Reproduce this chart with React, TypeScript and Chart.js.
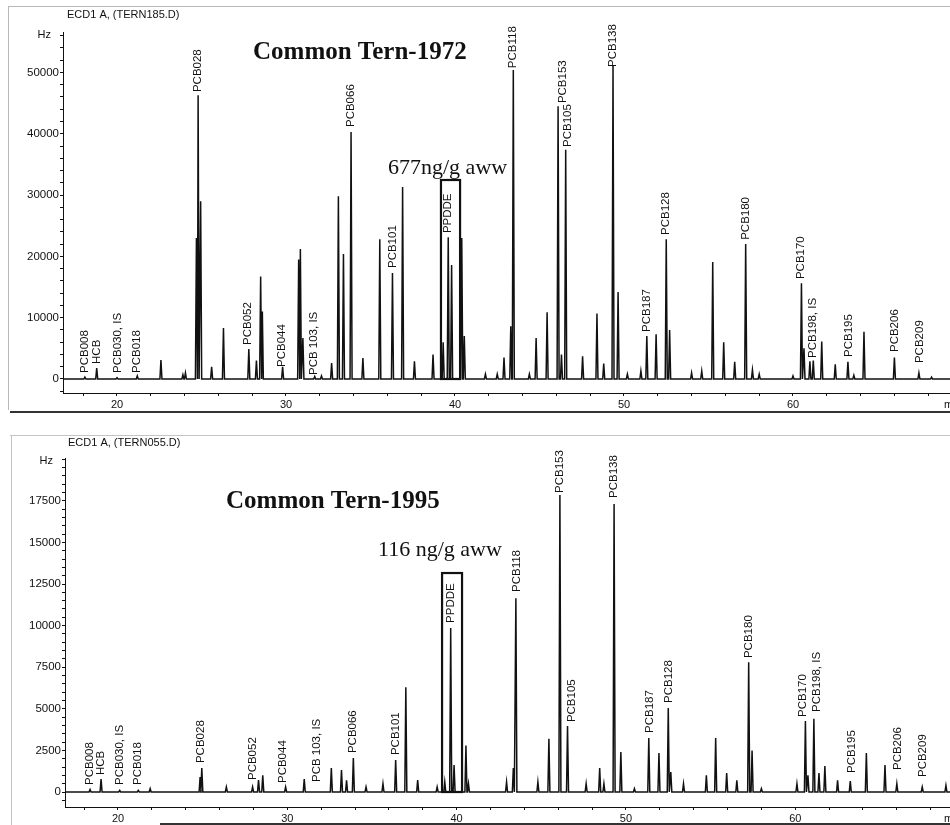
import React, { useEffect, useRef } from 'react';
import { Chart, registerables } from 'chart.js';

Chart.register(...registerables);

// ---------------- DATA: Common Tern 1972 (TERN185.D) ----------------
const peakTimes1972 = [
  18.1, 18.8, 20.0, 21.2, 22.6, 23.9, 24.05, 24.7, 24.8, 24.95, 25.6, 26.3, 27.8, 28.25, 28.5, 28.6,
  29.8, 30.75, 30.85, 31.0, 31.7, 32.1, 32.7, 33.1, 33.4, 33.85, 34.55, 35.55, 36.3, 36.9, 37.6, 38.7,
  39.3, 39.6, 39.8, 40.4, 40.55, 41.8, 42.5, 42.9, 43.3, 43.45, 44.4, 44.8, 45.45, 46.1, 46.3, 46.55,
  47.55, 48.4, 48.8, 49.35, 49.65, 50.2, 51.0, 51.35, 51.9, 52.5, 52.7, 54.0, 54.6, 55.25, 55.9, 56.55,
  57.2, 57.6, 58.0, 60.0, 60.5, 60.65, 61.0, 61.2, 61.7, 62.5, 63.25, 63.6, 64.2, 66.0, 67.45, 68.2,
];
const peakHeights1972 = [
  300, 1800, 200, 500, 3100, 700, 1000, 23000, 46300, 29000, 2000, 8300, 4900, 3000, 16700, 11000,
  2000, 19500, 21200, 6700, 400, 500, 2600, 29800, 20400, 40300, 3400, 22800, 17300, 31300, 2900, 4000,
  6000, 23100, 18600, 23000, 7000, 800, 800, 3500, 8600, 50400, 800, 6700, 10900, 44500, 4000, 37400,
  3700, 10700, 2500, 51200, 14200, 800, 1300, 7000, 7300, 22800, 8000, 1000, 1300, 19100, 6000, 2800,
  22000, 1500, 800, 500, 15600, 5000, 2900, 3000, 6100, 2400, 2800, 600, 7700, 3500, 1000, 300,
];
const labelNames1972 = [
  'PCB008', 'HCB', 'PCB030, IS', 'PCB018', 'PCB028', 'PCB052', 'PCB044', 'PCB 103, IS', 'PCB066',
  'PCB101', 'PPDDE', 'PCB118', 'PCB153', 'PCB105', 'PCB138', 'PCB187', 'PCB128', 'PCB180', 'PCB170',
  'PCB198, IS', 'PCB195', 'PCB206', 'PCB209',
];
const labelTimes1972 = [
  18.11, 18.82, 20.06, 21.18, 24.79, 27.75, 29.76, 31.66, 33.85, 36.33, 39.59, 43.43, 46.39, 46.69,
  49.35, 51.36, 52.49, 57.22, 60.47, 61.18, 63.31, 66.04, 67.51,
];
const labelLevels1972 = [
  980, 2450, 980, 980, 46800, 5550, 1960, 650, 41100, 18100, 23800, 50700, 45000, 37850, 50900, 7670,
  23500, 22700, 16300, 3430, 3590, 4400, 2600,
];
const yTicks1972 = [0, 10000, 20000, 30000, 40000, 50000];
const yMinorStep1972 = 2000;
const yRange1972 = [-2284, 56600];
const xRange1972 = [16.805, 69.29];
const ppddeBox1972 = [39.17, 40.3, 32460];
const sampleName1972 = 'ECD1 A, (TERN185.D)';
const title1972 = 'Common Tern-1972';
const concentration1972 = '677ng/g aww';

// ---------------- DATA: Common Tern 1995 (TERN055.D) ----------------
const peakTimes1995 = [
  18.35, 19.0, 20.1, 21.2, 21.9, 24.85, 24.95, 26.4, 27.95, 28.3, 28.55, 29.9, 31.0, 32.6, 33.2, 33.5,
  33.9, 34.65, 35.65, 36.4, 37.0, 37.7, 38.85, 39.3, 39.65, 39.85, 40.55, 40.7, 42.95, 43.35, 43.5,
  44.8, 45.45, 46.1, 46.55, 47.65, 48.45, 48.7, 49.3, 49.7, 50.5, 51.35, 51.95, 52.5, 52.65, 53.4,
  54.75, 55.3, 55.95, 56.55, 57.25, 57.45, 58.0, 60.1, 60.6, 60.75, 61.1, 61.4, 61.75, 62.5, 63.25,
  64.2, 65.3, 66.0, 67.5, 68.9,
];
const peakHeights1995 = [
  150, 780, 100, 100, 200, 900, 1440, 300, 300, 720, 1000, 300, 780, 1440, 1320, 700,
  2040, 300, 500, 1920, 6300, 720, 300, 600, 9850, 1620, 2800, 500, 600, 1440, 11650,
  600, 3200, 17850, 3970, 500, 1440, 500, 17300, 2400, 200, 3250, 2340, 5050, 1200, 500,
  1000, 3250, 1140, 700, 7800, 2500, 200, 500, 4270, 1000, 4400, 1140, 1560, 700, 650,
  2340, 1620, 500, 300, 400,
];
const labelNames1995 = [
  'PCB008', 'HCB', 'PCB030, IS', 'PCB018', 'PCB028', 'PCB052', 'PCB044', 'PCB 103, IS', 'PCB066',
  'PCB101', 'PPDDE', 'PCB118', 'PCB153', 'PCB105', 'PCB138', 'PCB187', 'PCB128', 'PCB180', 'PCB170',
  'PCB198, IS', 'PCB195', 'PCB206', 'PCB209',
];
const labelTimes1995 = [
  18.35, 19.0, 20.12, 21.18, 24.9, 27.97, 29.75, 31.75, 33.88, 36.42, 39.67, 43.57, 46.1, 46.82,
  49.3, 51.42, 52.55, 57.27, 60.46, 61.29, 63.36, 66.07, 67.55,
];
const labelLevels1995 = [
  420, 1020, 420, 420, 1740, 720, 540, 600, 2340, 2220, 10160, 12020, 17970, 4200, 17670, 3550,
  5350, 8050, 4510, 4810, 1140, 1320, 900,
];
const yTicks1995 = [0, 2500, 5000, 7500, 10000, 12500, 15000, 17500];
const yMinorStep1995 = 500;
const yRange1995 = [-901, 20072];
const xRange1995 = [16.87, 69.14];
const ppddeBox1995 = [39.14, 40.32, 13160];
const sampleName1995 = 'ECD1 A, (TERN055.D)';
const title1995 = 'Common Tern-1995';
const concentration1995 = '116 ng/g aww';

// shared x axis ticks
const xTicks = [18, 20, 22, 24, 26, 28, 30, 32, 34, 36, 38, 40, 42, 44, 46, 48, 50, 52, 54, 56, 58, 60, 62, 64, 66, 68];
const xTickLabels = [20, 30, 40, 50, 60];

// ---------------- rendering ----------------
const SANS = "'Liberation Sans', Arial, Helvetica, sans-serif";
const SERIF = "'Liberation Serif', 'Times New Roman', Times, serif";
const INK = '#111';
const PEAK_HALF_WIDTH = 0.06;

type PanelCfg = {
  times: number[];
  heights: number[];
  labelNames: string[];
  labelTimes: number[];
  labelLevels: number[];
  yTicks: number[];
  yMinorStep: number;
  yRange: number[];
  xRange: number[];
  box: number[];
  sampleName: string;
  title: string;
  concentration: string;
  width: number;
  height: number;
  padTop: number;
  yAxisWidth: number;
  xAxisHeight: number;
  layout: {
    sample: [number, number];
    title: [number, number];
    conc: [number, number];
    frames: (ctx: CanvasRenderingContext2D) => void;
  };
};

function buildTrace(times: number[], heights: number[], xMin: number, xMax: number) {
  const order = times.map((_, i) => i).sort((a, b) => times[a] - times[b]);
  const pts: { x: number; y: number }[] = [{ x: xMin, y: 0 }];
  for (const i of order) {
    pts.push({ x: times[i] - PEAK_HALF_WIDTH, y: 0 });
    pts.push({ x: times[i], y: heights[i] });
    pts.push({ x: times[i] + PEAK_HALF_WIDTH, y: 0 });
  }
  pts.push({ x: xMax, y: 0 });
  return pts;
}

function allYTicks(major: number[], step: number, min: number, max: number) {
  const out: number[] = [];
  const start = Math.ceil(min / step) * step;
  for (let v = start; v <= max; v += step) out.push(v);
  major.forEach((m) => { if (!out.includes(m)) out.push(m); });
  return out.sort((a, b) => a - b);
}

function Panel({ cfg, top }: { cfg: PanelCfg; top: number }) {
  const ref = useRef<HTMLCanvasElement | null>(null);
  useEffect(() => {
    const canvas = ref.current;
    if (!canvas) return;
    const yAll = allYTicks(cfg.yTicks, cfg.yMinorStep, cfg.yRange[0], cfg.yRange[1]);
    const annot = {
      id: 'annot',
      afterDatasetsDraw(chart: any) {
        const { ctx } = chart;
        const x = chart.scales.x;
        const y = chart.scales.y;
        ctx.save();
        // frames
        cfg.layout.frames(ctx);
        // PPDDE box
        const bx0 = x.getPixelForValue(cfg.box[0]);
        const bx1 = x.getPixelForValue(cfg.box[1]);
        const by0 = y.getPixelForValue(cfg.box[2]);
        const by1 = y.getPixelForValue(0);
        ctx.strokeStyle = INK;
        ctx.lineWidth = 2.2;
        ctx.strokeRect(bx0, by0, bx1 - bx0, by1 - by0);
        // peak labels
        ctx.fillStyle = INK;
        ctx.font = `11.5px ${SANS}`;
        ctx.textAlign = 'left';
        ctx.textBaseline = 'middle';
        cfg.labelNames.forEach((n, i) => {
          const px = x.getPixelForValue(cfg.labelTimes[i]);
          const py = y.getPixelForValue(cfg.labelLevels[i]);
          ctx.save();
          ctx.translate(px, py);
          ctx.rotate(-Math.PI / 2);
          ctx.fillText(n, 0, 0);
          ctx.restore();
        });
        // sample header
        ctx.font = `11px ${SANS}`;
        ctx.fillText(cfg.sampleName, cfg.layout.sample[0], cfg.layout.sample[1]);
        // Hz unit
        ctx.textAlign = 'right';
        ctx.fillText('Hz', chart.chartArea.left - 12, chart.chartArea.top + 3);
        // min unit (cut at right edge)
        ctx.textAlign = 'left';
        ctx.fillText('m', chart.chartArea.right - 6, chart.chartArea.bottom + 12);
        // titles
        ctx.font = `bold 25px ${SERIF}`;
        ctx.fillText(cfg.title, cfg.layout.title[0], cfg.layout.title[1]);
        ctx.font = `22px ${SERIF}`;
        ctx.fillText(cfg.concentration, cfg.layout.conc[0], cfg.layout.conc[1]);
        ctx.restore();
      },
    };
    const chart = new Chart(canvas, {
      type: 'line',
      data: {
        datasets: [
          {
            data: buildTrace(cfg.times, cfg.heights, cfg.xRange[0], cfg.xRange[1]),
            borderColor: INK,
            borderWidth: 1.5,
            pointRadius: 0,
            tension: 0,
            fill: false,
          },
        ],
      },
      options: {
        animation: false,
        responsive: false,
        maintainAspectRatio: false,
        devicePixelRatio: 1,
        parsing: false as any,
        normalized: true,
        layout: { padding: { top: cfg.padTop, left: 0, right: 0, bottom: 0 } },
        plugins: { legend: { display: false }, tooltip: { enabled: false }, title: { display: false } },
        events: [],
        scales: {
          x: {
            type: 'linear',
            min: cfg.xRange[0],
            max: cfg.xRange[1],
            afterBuildTicks: (s: any) => { s.ticks = xTicks.map((v) => ({ value: v })); },
            afterFit: (s: any) => { s.height = cfg.xAxisHeight; },
            ticks: {
              autoSkip: false,
              maxRotation: 0,
              padding: 2,
              color: INK,
              font: { size: 11, family: SANS },
              callback: (v: any) => (xTickLabels.includes(Number(v)) ? String(v) : ''),
            },
            grid: { drawOnChartArea: false, drawTicks: true, tickLength: 3, color: INK },
            border: { display: true, color: INK, width: 1 },
          },
          y: {
            type: 'linear',
            min: cfg.yRange[0],
            max: cfg.yRange[1],
            afterBuildTicks: (s: any) => { s.ticks = yAll.map((v) => ({ value: v })); },
            afterFit: (s: any) => { s.width = cfg.yAxisWidth; },
            ticks: {
              autoSkip: false,
              padding: 1,
              color: INK,
              font: { size: 11.5, family: SANS },
              callback: (v: any) => (cfg.yTicks.includes(Number(v)) ? String(v) : ''),
            },
            grid: { drawOnChartArea: false, drawTicks: true, tickLength: 3, color: INK },
            border: { display: true, color: INK, width: 1 },
          },
        },
      } as any,
      plugins: [annot],
    });
    return () => chart.destroy();
  }, [cfg]);
  return (
    <canvas
      ref={ref}
      width={cfg.width}
      height={cfg.height}
      style={{ position: 'absolute', left: 0, top, width: cfg.width, height: cfg.height }}
    />
  );
}

const cfg1972: PanelCfg = {
  times: peakTimes1972,
  heights: peakHeights1972,
  labelNames: labelNames1972,
  labelTimes: labelTimes1972,
  labelLevels: labelLevels1972,
  yTicks: yTicks1972,
  yMinorStep: yMinorStep1972,
  yRange: yRange1972,
  xRange: xRange1972,
  box: ppddeBox1972,
  sampleName: sampleName1972,
  title: title1972,
  concentration: concentration1972,
  width: 950,
  height: 410,
  padTop: 32,
  yAxisWidth: 63,
  xAxisHeight: 17,
  layout: {
    sample: [67, 15],
    title: [253, 53],
    conc: [388, 168],
    frames: (ctx) => {
      ctx.strokeStyle = '#b8b8b8';
      ctx.lineWidth = 1;
      ctx.beginPath();
      ctx.moveTo(8, 6.5);
      ctx.lineTo(950, 6.5);
      ctx.moveTo(8.5, 6);
      ctx.lineTo(8.5, 410);
      ctx.stroke();
    },
  },
};

const cfg1995: PanelCfg = {
  times: peakTimes1995,
  heights: peakHeights1995,
  labelNames: labelNames1995,
  labelTimes: labelTimes1995,
  labelLevels: labelLevels1995,
  yTicks: yTicks1995,
  yMinorStep: yMinorStep1995,
  yRange: yRange1995,
  xRange: xRange1995,
  box: ppddeBox1995,
  sampleName: sampleName1995,
  title: title1995,
  concentration: concentration1995,
  width: 950,
  height: 415,
  padTop: 48,
  yAxisWidth: 65,
  xAxisHeight: 18,
  layout: {
    sample: [68, 33],
    title: [226, 92],
    conc: [378, 140],
    frames: (ctx) => {
      ctx.strokeStyle = '#333';
      ctx.lineWidth = 2;
      ctx.beginPath();
      ctx.moveTo(10, 2);
      ctx.lineTo(950, 2);
      ctx.stroke();
      ctx.strokeStyle = '#c4c4c4';
      ctx.lineWidth = 1;
      ctx.beginPath();
      ctx.moveTo(10, 25.5);
      ctx.lineTo(950, 25.5);
      ctx.moveTo(11.5, 25);
      ctx.lineTo(11.5, 415);
      ctx.stroke();
      ctx.strokeStyle = '#333';
      ctx.lineWidth = 2;
      ctx.beginPath();
      ctx.moveTo(160, 414);
      ctx.lineTo(950, 414);
      ctx.stroke();
    },
  },
};

export default function App() {
  return (
    <div style={{ position: 'absolute', left: 0, top: 0, width: 950, height: 825, background: '#fff', overflow: 'hidden' }}>
      <Panel cfg={cfg1972} top={0} />
      <Panel cfg={cfg1995} top={410} />
    </div>
  );
}
